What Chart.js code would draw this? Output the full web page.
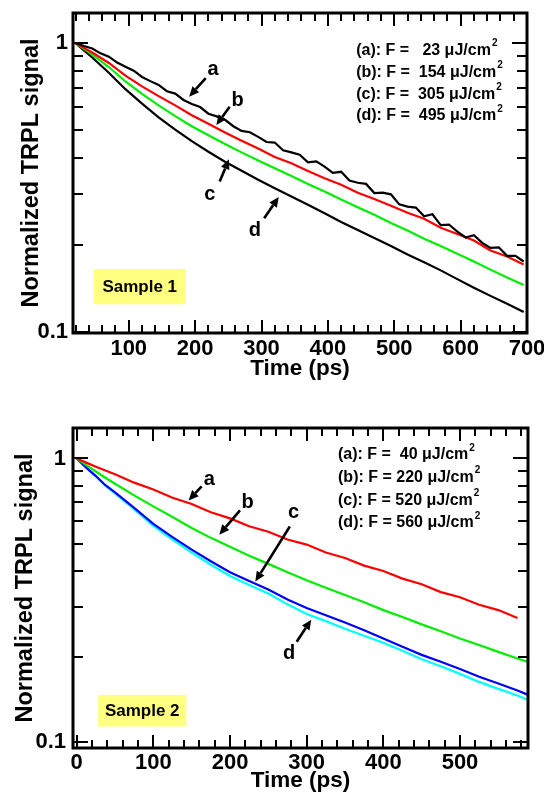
<!DOCTYPE html>
<html>
<head>
<meta charset="utf-8">
<script src="https://cdn.jsdelivr.net/npm/chart.js@4.4.1/dist/chart.umd.min.js"></script>
<style>
  html, body { margin: 0; padding: 0; background: #fff; }
  canvas { display: block; }
</style>
</head>
<body>
<canvas id="chart1" width="544" height="400"></canvas>
<canvas id="chart2" width="544" height="400"></canvas>
<script>
// TRPL decay curves, two samples, log y axis

const FONT = '"Liberation Sans", Arial, Helvetica, sans-serif';

// ---- Sample 1 ----
const time1a = [20, 32.5, 45, 57.5, 70, 82.5, 95, 107.5, 120, 132.5, 145, 157.5, 170, 182.5, 195, 207.5,
  220, 232.5, 245, 257.5, 270, 282.5, 295, 307.5, 320, 332.5, 345, 357.5, 370, 382.5, 395, 407.5,
  420, 432.5, 445, 457.5, 470, 482.5, 495, 507.5, 520, 532.5, 545, 557.5, 570, 582.5, 595, 607.5,
  620, 632.5, 645, 657.5, 670, 682.5, 695];
const s1a = [1.000, .977, .957, .921, .897, .856, .828, .802, .763, .738, .716, .681, .668, .635, .615, .600,
  .569, .557, .542, .515, .496, .491, .473, .454, .452, .425, .418, .410, .386, .389, .373, .355,
  .358, .334, .328, .325, .302, .303, .299, .276, .271, .269, .251, .255, .234, .235, .222, .212,
  .216, .203, .195, .196, .183, .183, .175];
const time1 = [20, 32.5, 45, 70, 95, 120, 145, 170, 195, 220, 245, 270, 295, 320, 345, 370, 395, 420, 445,
  470, 495, 520, 545, 570, 595, 620, 645, 670, 695];
const s1b = [1.000, .962, .927, .853, .771, .708, .655, .608, .562, .525, .490, .459, .431, .403, .383, .360, .340,
  .323, .303, .288, .273, .258, .246, .229, .218, .207, .191, .182, .171];
const s1c = [1.000, .954, .912, .826, .736, .667, .608, .558, .515, .479, .447, .418, .392, .368, .346, .325, .306,
  .287, .270, .254, .238, .224, .210, .198, .186, .175, .164, .154, .145];
const s1d = [1.000, .943, .891, .789, .692, .617, .553, .501, .457, .420, .388, .361, .336, .314, .294, .275, .257,
  .240, .225, .211, .198, .185, .174, .163, .152, .142, .133, .125, .117];
const xLabels1 = [100, 200, 300, 400, 500, 600, 700];
const legend1 = ['(a): F =   23 \u03bcJ/cm', '(b): F =  154 \u03bcJ/cm', '(c): F =  305 \u03bcJ/cm', '(d): F =  495 \u03bcJ/cm'];

// ---- Sample 2 ----
const time2 = [0, 12.5, 25, 37.5, 50, 75, 100, 125, 150, 175, 200, 225, 250, 275, 300, 325, 350, 375, 400, 425,
  450, 475, 500, 525, 550, 575, 588];
const s2a = [1.000, .967, .936, .907, .880, .822, .777, .727, .691, .646, .615, .577, .552, .518, .497, .466, .446, .419,
  .401, .377, .360, .338, .324, .305, .292, .274, null];
const s2b = [1.000, .947, .900, .855, .815, .741, .678, .622, .569, .525, .488, .454, .425, .397, .372, .350, .330, .311,
  .292, .276, .260, .246, .232, .220, .208, .197, .192];
const s2c = [1.000, .929, .867, .805, .759, .670, .588, .528, .477, .434, .397, .370, .345, .318, .297, .280, .264, .248,
  .232, .217, .203, .192, .181, .170, .161, .152, .147];
const s2d = [1.000, .929, .866, .802, .754, .663, .579, .518, .466, .422, .385, .358, .334, .306, .283, .267, .251, .237,
  .224, .210, .196, .185, .174, .163, .154, .146, .141];
const xLabels2 = [0, 100, 200, 300, 400, 500];
const legend2 = ['(a): F =  40 \u03bcJ/cm', '(b): F = 220 \u03bcJ/cm', '(c): F = 520 \u03bcJ/cm', '(d): F = 560 \u03bcJ/cm'];

// shared y ticks
const yLabels = [0.1, 1];
const yMinor = [0.2, 0.3, 0.4, 0.5, 0.6, 0.7, 0.8, 0.9];
const yTicks = yLabels.concat(yMinor).sort((p, q) => p - q);

// letter + arrow annotations, data units: label at (lx,ly), arrow from (x1,y1) to (x2,y2)
const notes1 = [
  { t: 'a', lx: 227, ly: .812, x1: 216, y1: .756, x2: 191, y2: .652 },
  { t: 'b', lx: 264, ly: .632, x1: 252, y1: .602, x2: 232, y2: .520 },
  { t: 'c', lx: 222, ly: .298, x1: 237, y1: .331, x2: 251, y2: .396 },
  { t: 'd', lx: 290, ly: .225, x1: 304, y1: .247, x2: 326, y2: .293 }
];
const notes2 = [
  { t: 'a', lx: 173, ly: .842, x1: 163, y1: .797, x2: 146, y2: .711 },
  { t: 'b', lx: 223, ly: .700, x1: 213, y1: .656, x2: 186, y2: .538 },
  { t: 'c', lx: 283, ly: .646, x1: 278, y1: .576, x2: 233, y2: .368 },
  { t: 'd', lx: 277, ly: .206, x1: 287, y1: .226, x2: 306, y2: .270 }
];

function near(list, v) { return list.some(l => Math.abs(l - v) < 1e-9); }

function stepsFrom(start, max, step) {
  const out = [];
  for (let v = start; v <= max + 1e-9; v += step) out.push(v);
  return out;
}

function arrow(ctx, x1, y1, x2, y2) {
  const ang = Math.atan2(y2 - y1, x2 - x1);
  const head = 10, half = 4.5;
  const bx = x2 - head * Math.cos(ang), by = y2 - head * Math.sin(ang);
  ctx.lineWidth = 2.6;
  ctx.beginPath(); ctx.moveTo(x1, y1); ctx.lineTo(bx, by); ctx.stroke();
  ctx.beginPath();
  ctx.moveTo(x2, y2);
  ctx.lineTo(bx + half * Math.sin(ang), by - half * Math.cos(ang));
  ctx.lineTo(bx - half * Math.sin(ang), by + half * Math.cos(ang));
  ctx.closePath(); ctx.fill();
}

// frame, inward ticks, legend text, sample box, arrows
const decor = {
  id: 'decor',
  afterDraw(chart) {
    const o = chart.config.options.plugins.decor;
    const { ctx, chartArea: a, scales: { x, y } } = chart;
    ctx.save();
    ctx.strokeStyle = '#000'; ctx.fillStyle = '#000';

    // inward ticks on all four sides, every 20 ps on x
    const xt = stepsFrom(Math.ceil(x.min / 20) * 20, x.max, 20);
    xt.forEach(v => {
      const px = Math.round(x.getPixelForValue(v));
      const len = Math.abs(v % 100) < 1e-9 ? 13 : 8;
      ctx.fillRect(px - 1, a.bottom - len, 2, len);
      ctx.fillRect(px - 1, a.top, 2, len);
    });
    yTicks.forEach(v => {
      const py = Math.round(y.getPixelForValue(v));
      const len = near(yLabels, v) ? 15 : 10;
      ctx.fillRect(a.left, py - 1, len, 2);
      ctx.fillRect(a.right - len, py - 1, len, 2);
    });
    ctx.lineWidth = 3;
    ctx.strokeRect(a.left, a.top, a.right - a.left, a.bottom - a.top);

    // sample box
    const b = o.box;
    const bl = x.getPixelForValue(b.x0), br = x.getPixelForValue(b.x1);
    const bt = y.getPixelForValue(b.y1), bb = y.getPixelForValue(b.y0);
    ctx.fillStyle = '#ffff80';
    ctx.fillRect(bl, bt, br - bl, bb - bt);
    ctx.fillStyle = '#000';
    ctx.font = 'bold 17px ' + FONT;
    ctx.textAlign = 'center'; ctx.textBaseline = 'middle';
    ctx.fillText(b.text, (bl + br) / 2, (bt + bb) / 2 + 1);

    // fluence legend
    const lx = x.getPixelForValue(o.legend.x);
    let ly = y.getPixelForValue(o.legend.y);
    ctx.textAlign = 'left';
    o.legend.lines.forEach(line => {
      ctx.font = 'bold 16px ' + FONT;
      ctx.fillText(line, lx, ly);
      const w = ctx.measureText(line).width;
      ctx.font = 'bold 10px ' + FONT;
      ctx.fillText('2', lx + w + 1, ly - 7);
      ly += o.legend.gap;
    });

    // letters and arrows
    ctx.font = 'bold 20px ' + FONT;
    ctx.textAlign = 'center';
    o.notes.forEach(n => {
      ctx.fillText(n.t, x.getPixelForValue(n.lx), y.getPixelForValue(n.ly));
      arrow(ctx, x.getPixelForValue(n.x1), y.getPixelForValue(n.y1),
        x.getPixelForValue(n.x2), y.getPixelForValue(n.y2));
    });
    ctx.restore();
  }
};

function series(xs, ys, color) {
  return {
    data: xs.map((v, i) => ({ x: v, y: ys[i] })),
    borderColor: color, borderWidth: 2.2, pointRadius: 0, fill: false, tension: 0
  };
}

function makeChart(id, cfg) {
  const tickFont = { family: FONT, size: 22, weight: 'bold' };
  return new Chart(document.getElementById(id), {
    type: 'line',
    data: { datasets: cfg.datasets },
    options: {
      responsive: false, animation: false, events: [],
      layout: { autoPadding: false, padding: cfg.padding },
      plugins: { legend: { display: false }, tooltip: { enabled: false }, decor: cfg.decor },
      scales: {
        x: {
          type: 'linear', min: cfg.xMin, max: cfg.xMax,
          afterBuildTicks: ax => { ax.ticks = cfg.xLabels.map(v => ({ value: v })); },
          afterFit: s => { s.height = cfg.xHeight; s.paddingLeft = 0; s.paddingRight = 0; },
          grid: { display: false, drawTicks: false }, border: { display: false },
          ticks: {
            autoSkip: false, maxRotation: 0, minRotation: 0, padding: cfg.xPad, color: '#000', font: tickFont
          },
          title: {
            display: true, text: 'Time (ps)', color: '#000',
            font: { family: FONT, size: 22.5, weight: 'bold' }, padding: { top: 0, bottom: cfg.xTitlePad }
          }
        },
        y: {
          type: 'logarithmic', min: cfg.yMin, max: cfg.yMax,
          afterBuildTicks: ax => { ax.ticks = yLabels.map(v => ({ value: v })); },
          afterFit: s => { s.width = 73; s.paddingTop = 0; s.paddingBottom = 0; },
          grid: { display: false, drawTicks: false }, border: { display: false },
          ticks: {
            autoSkip: false, padding: cfg.yPad, color: '#000', font: tickFont,
            callback: v => String(v)
          },
          title: {
            display: true, text: 'Normalized TRPL signal', color: '#000',
            font: { family: FONT, size: 23.5, weight: 'bold' }, padding: { top: cfg.yTitlePad, bottom: 0 }
          }
        }
      }
    },
    plugins: [decor]
  });
}

makeChart('chart1', {
  datasets: [
    series(time1a, s1a, '#000000'),
    series(time1, s1b, '#ff0000'),
    series(time1, s1c, '#00ee00'),
    series(time1, s1d, '#000000')
  ],
  padding: { left: 0, top: 13, right: 17, bottom: 0 },
  xMin: 16, xMax: 700, xLabels: xLabels1, xHeight: 67, xPad: 2.3, xTitlePad: 17.5,
  yMin: 0.0989, yMax: 1.271, yPad: 5, yTitlePad: 17,
  decor: {
    box: { x0: 47, x1: 186, y0: 0.1244, y1: 0.1645, text: 'Sample 1' },
    legend: { x: 442.6, y: 0.942, gap: 21.8, lines: legend1 },
    notes: notes1
  }
});

makeChart('chart2', {
  datasets: [
    series(time2, s2a, '#ff0000'),
    series(time2, s2b, '#00ee00'),
    series(time2, s2c, '#0000ff'),
    series(time2, s2d, '#00ffff')
  ],
  padding: { left: 0, top: 28, right: 16, bottom: 0 },
  xMin: -4.8, xMax: 588.7, xLabels: xLabels2, xHeight: 52, xPad: 1.5, xTitlePad: 5.5,
  yMin: 0.0953, yMax: 1.281, yPad: 7, yTitlePad: 11,
  decor: {
    box: { x0: 28, x1: 143, y0: 0.1135, y1: 0.1468, text: 'Sample 2' },
    legend: { x: 340.9, y: 1.029, gap: 22.7, lines: legend2 },
    notes: notes2
  }
});
</script>
</body>
</html>
